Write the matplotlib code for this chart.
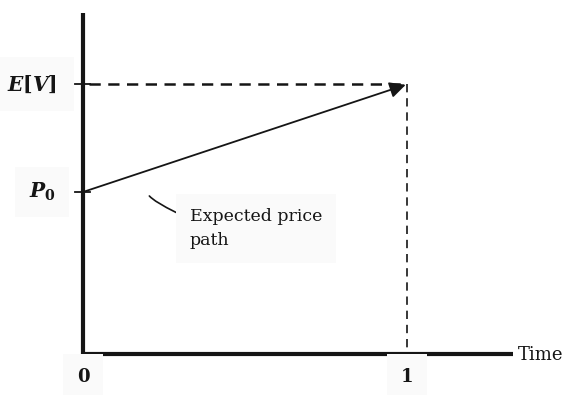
import matplotlib
matplotlib.use("Agg")
import matplotlib.pyplot as plt

# ---- data ----
times = [0, 1]                  # time points
prices = [0.6, 1.0]             # P0 and E[V]
y_labels = [r"$\mathbfit{P}_{\mathbf{0}}$", r"$\mathbfit{E}\mathbf{[}\mathbfit{V}\mathbf{]}$"]
x_labels = ["0", "1"]
x_axis_label = "Time"
annotation_text = "Expected price\npath"

plt.rcParams["mathtext.fontset"] = "dejavuserif"
plt.rcParams["font.family"] = ["DejaVu Serif"]

W, H = 585, 395
fig = plt.figure(figsize=(W / 100, H / 100), dpi=100)
ax = fig.add_axes([0, 0, 1, 1])
ax.set_xlim(-0.2562, 1.5494)
ax.set_ylim(-0.1519, 1.3111)
ax.axis("off")

ink = "#151515"
x_end = 1.327
y_top = 1.263
boxc = "#fafafa"

# axes
ax.plot([0, 0], [-0.01, y_top], color=ink, lw=3.0, solid_capstyle="butt")
ax.plot([-0.006, x_end], [0, 0], color=ink, lw=3.0, solid_capstyle="butt")

# ticks on y axis
for p in prices:
    ax.plot([-0.025, 0.022], [p, p], color=ink, lw=1.3)

# dashed guides
ax.plot([0.02, times[1]], [prices[1], prices[1]], color=ink, lw=1.8,
        dashes=(4.5, 3))
ax.plot([times[1], times[1]], [prices[1], 0], color=ink, lw=1.2,
        dashes=(5, 3.5))

# expected price path with arrow
ax.annotate("", xy=(times[1] - 0.004, prices[1] - 0.003), xytext=(times[0], prices[0]),
            arrowprops=dict(arrowstyle="-|>", color=ink, lw=1.3,
                            mutation_scale=24, shrinkA=0, shrinkB=0))

# y labels
ax.text(-0.08, prices[1], y_labels[1], ha="right", va="center", fontsize=14.5,
        color=ink, bbox=dict(facecolor=boxc, edgecolor="none", pad=12))
ax.text(-0.085, prices[0], y_labels[0], ha="right", va="center", fontsize=14.5,
        color=ink, bbox=dict(facecolor=boxc, edgecolor="none", pad=10))

# x labels
for t, lab in zip(times, x_labels):
    ax.text(t, -0.085, lab, ha="center", va="center", fontsize=13,
            fontweight="bold", color=ink, bbox=dict(facecolor=boxc, edgecolor="none", pad=10))
ax.text(x_end + 0.015, -0.005, x_axis_label, ha="left", va="center",
        fontsize=13, color=ink)

# annotation
ax.annotate(annotation_text, xy=(0.2, 0.605), xytext=(0.33, 0.465),
            ha="left", va="center", fontsize=12.5, color=ink, linespacing=1.6,
            bbox=dict(facecolor=boxc, edgecolor="none", pad=10),
            arrowprops=dict(arrowstyle="-", color=ink, lw=1.2, shrinkA=0, shrinkB=4,
                            relpos=(-0.05, 0.8), connectionstyle="angle3,angleA=-25,angleB=55"))

fig.savefig("out.png", dpi=100, facecolor="white")
